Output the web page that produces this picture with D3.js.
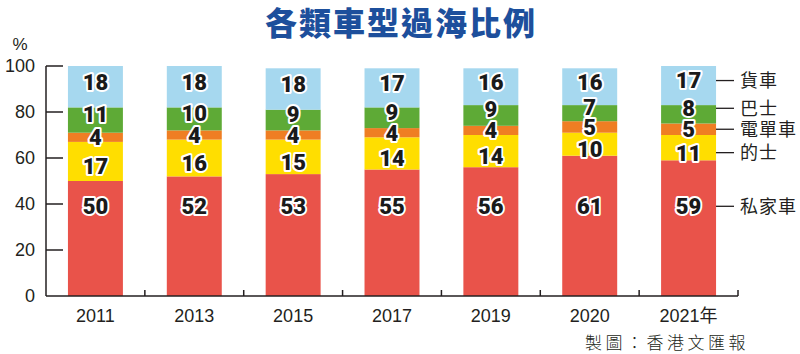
<!DOCTYPE html>
<html><head><meta charset="utf-8">
<script src="https://cdn.jsdelivr.net/npm/d3@7"></script>
<style>
html,body{margin:0;padding:0;background:#fff;}
svg{display:block;}
</style>
</head><body>
<svg id="c" width="800" height="354"></svg>
<script>
const years = ["2011","2013","2015","2017","2019","2020","2021年"];
const privateCar = [50,52,53,55,56,61,59];
const taxi = [17,16,15,14,14,10,11];
const motorcycle = [4,4,4,4,4,5,5];
const bus = [11,10,9,9,9,7,8];
const goods = [18,18,18,17,16,16,17];
const seriesNames = ["私家車","的士","電單車","巴士","貨車"];
const seriesKeys = ["private","taxi","moto","bus","goods"];
const colors = ["#E9534A","#FFDE00","#EF7E23","#5EAA36","#A6D8EF"];
const yTicks = [0,20,40,60,80,100];
const title = "各類車型過海比例";
const credit = "製圖：香港文匯報";

const table = years.map((y,i)=>({year:y, private:privateCar[i], taxi:taxi[i], moto:motorcycle[i], bus:bus[i], goods:goods[i]}));
const stacked = d3.stack().keys(seriesKeys)(table);

const svg = d3.select("#c");
const x = d3.scaleBand().domain(years).range([46,738]).paddingInner(0.444).paddingOuter(0.222);
const y = d3.scaleLinear().domain([0,100]).range([296,66]);

// title
svg.append("text").attr("x",401).attr("y",35).attr("text-anchor","middle")
  .attr("font-family","'Noto Sans CJK TC'").attr("font-weight",900).attr("font-size",32)
  .attr("fill","#1D4F9C").attr("letter-spacing",2).text(title);

// bars
const g = svg.append("g");
stacked.forEach((s,si)=>{
  g.selectAll(null).data(s).enter().append("rect")
    .attr("x",d=>x(d.data.year)).attr("width",x.bandwidth())
    .attr("y",d=>y(d[1])).attr("height",d=>y(d[0])-y(d[1]))
    .attr("fill",colors[si]);
});

const offs = [null,5,0,-6,-5];
function labelY(si,d){
  if(si===0) return y(39);
  return (y(d[0])+y(d[1]))/2 + offs[si];
}
stacked.forEach((s,si)=>{
  g.selectAll(null).data(s).enter().append("text")
    .attr("x",d=>x(d.data.year)+x.bandwidth()/2)
    .attr("y",d=>labelY(si,d)).attr("dy","0.36em")
    .attr("text-anchor","middle")
    .attr("font-family","Roboto").attr("font-weight",900).attr("font-size",22)
    .attr("fill","#1a1a1a").attr("stroke","#fff").attr("stroke-width",4)
    .attr("stroke-linejoin","round").attr("paint-order","stroke")
    .text(d=>d[1]-d[0]);
});

// axes
const ax = svg.append("g").attr("stroke","#231F20").attr("stroke-width",1.5);
ax.append("line").attr("x1",46).attr("x2",46).attr("y1",y(100)).attr("y2",y(0));
ax.append("line").attr("x1",46).attr("x2",738).attr("y1",y(0)).attr("y2",y(0));
ax.selectAll(null).data(yTicks.filter(t=>t>0)).enter().append("line")
  .attr("x1",46).attr("x2",63).attr("y1",d=>y(d)).attr("y2",d=>y(d));
ax.selectAll(null).data(d3.range(1,years.length+1)).enter().append("line")
  .attr("x1",d=>46+d*x.step()).attr("x2",d=>46+d*x.step())
  .attr("y1",y(0)).attr("y2",y(0)-6);

svg.selectAll(null).data(yTicks).enter().append("text")
  .attr("x",35).attr("y",d=>y(d)).attr("dy","0.36em").attr("text-anchor","end")
  .attr("font-family","'Liberation Sans'").attr("font-size",18).attr("fill","#231F20")
  .text(d=>d);
svg.append("text").attr("x",20).attr("y",50).attr("text-anchor","middle")
  .attr("font-family","'Liberation Sans'").attr("font-size",17).attr("fill","#231F20").text("%");

svg.selectAll(null).data(years).enter().append("text")
  .attr("x",d=>x(d)+x.bandwidth()/2).attr("y",322).attr("text-anchor","middle")
  .attr("font-family","'Liberation Sans','Noto Sans CJK TC'").attr("font-size",18).attr("fill","#231F20")
  .text(d=>d);

// legend aligned with last bar
const lastIdx = years.length-1;
stacked.forEach((s,si)=>{
  const ly = labelY(si,s[lastIdx]);
  svg.append("line").attr("x1",716).attr("x2",734).attr("y1",ly).attr("y2",ly)
    .attr("stroke","#231F20").attr("stroke-width",1.3);
  svg.append("text").attr("x",740).attr("y",ly).attr("dy","0.36em")
    .attr("font-family","'Noto Sans CJK TC'").attr("font-size",18).attr("letter-spacing",1)
    .attr("fill","#231F20").text(seriesNames[si]);
});

svg.append("text").attr("x",585).attr("y",349)
  .attr("font-family","'Noto Sans CJK TC'").attr("font-weight",300).attr("font-size",17).attr("letter-spacing",3.5)
  .attr("fill","#231F20").text(credit);
</script>
</body></html>
